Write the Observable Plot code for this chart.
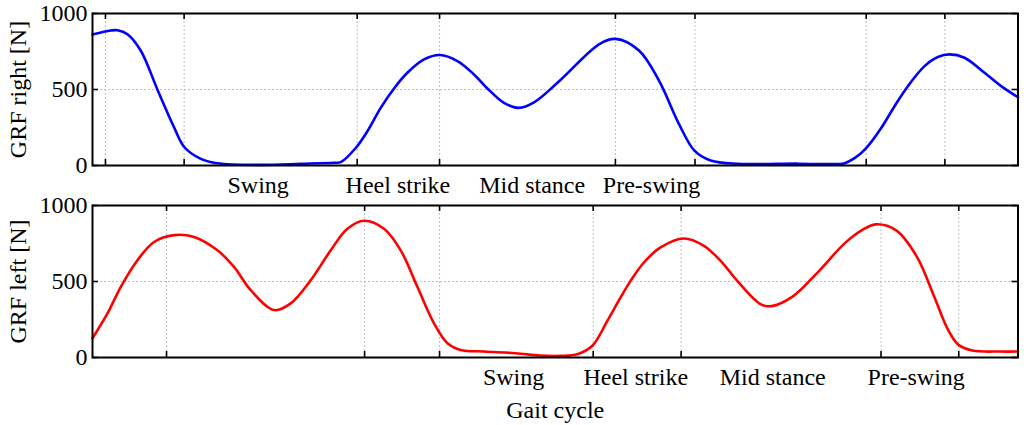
<!DOCTYPE html>
<html>
<head>
<meta charset="utf-8">
<script src="https://cdn.jsdelivr.net/npm/d3@7"></script>
<script src="https://cdn.jsdelivr.net/npm/@observablehq/plot@0.6"></script>
<style>
  html, body { margin: 0; padding: 0; background: white; }
  #chart { width: 1024px; height: 425px; position: relative; }
  #chart svg { display: block; overflow: visible; }
  #chart svg, #chart svg text { font-family: "Liberation Serif", "Times New Roman", serif !important; font-variant-numeric: normal !important; }
</style>
</head>
<body>
<div id="chart"></div>
<script>
// Gait cycle position (0–100 across the plotted window)
const xRight = [0, 1.98, 2.7, 3.78, 5.22, 7.02, 8.81, 9.94, 11.7, 13.5, 18.18, 22.5, 26.06, 26.82, 28.44, 29.7, 31.14, 32.58, 34.02, 35.82, 37.55, 39.43, 41.22, 42.67, 44.46, 46.08, 47.7, 50.48, 54.77, 56.52, 59.07, 61.21, 63.36, 65.04, 66.79, 69.81, 76.25, 79.11, 81.26, 82.34, 83.6, 85.22, 86.66, 88.1, 89.9, 91.34, 92.6, 94.22, 96.38, 98.18, 100];
const grfRight = [862, 888, 890, 864, 755, 499, 252, 120, 44, 15, 4, 11, 18, 22, 115, 225, 379, 507, 610, 698, 727, 687, 599, 507, 412, 379, 415, 558, 799, 833, 755, 558, 274, 98, 33, 11, 12, 9, 15, 48, 115, 247, 390, 522, 654, 714, 731, 709, 610, 522, 449];

const xLeft = [0, 1.62, 3.06, 4.86, 6.65, 8.81, 10.97, 13.5, 15.29, 17.1, 19.62, 21.42, 23.58, 25.74, 27.54, 29.34, 31.5, 33.3, 35.1, 36.9, 38.35, 39.78, 42.3, 45.72, 48.36, 50.58, 52.39, 54.01, 55.63, 57.06, 58.14, 59.58, 61.38, 63.9, 66.06, 67.87, 69.67, 72.19, 73.37, 75.64, 78.23, 81.24, 83.1, 84.61, 86.84, 89.08, 90.95, 92.45, 93.57, 95.06, 98.05, 100];
const grfLeft = [127, 290, 465, 640, 760, 805, 793, 705, 596, 443, 312, 356, 509, 705, 847, 900, 847, 705, 465, 225, 94, 50, 39, 28, 13, 11, 22, 77, 241, 395, 504, 625, 724, 783, 735, 636, 504, 351, 338, 400, 552, 749, 836, 876, 836, 662, 400, 181, 83, 46, 39, 39];

// Gait event tick positions
const rightTicks = [1.4, 9.9, 28.6, 37.5, 56.5, 65.1, 83.6, 92.1];
const leftTicks = [8.0, 29.4, 37.5, 54.1, 63.6, 85.2, 93.6];

// Phase labels
const phaseNames = ["Swing", "Heel strike", "Mid stance", "Pre-swing"];
const rightPhasePos = [17.9, 33.0, 47.5, 60.4];
const leftPhasePos = [45.5, 58.7, 73.5, 89.0];

const yTicks = [0, 500, 1000];

const W = 1024, ML = 92, MR = 6.5, INNER_H = 152;
const innerW = W - ML - MR;
const FONT = "Liberation Serif";

function panel({xs, ys, color, ticks, phasePos, yLabel, xLabel, height, marginTop, marginBottom}) {
  const data = xs.map((x, i) => ({x, y: ys[i]}));
  const labelOf = new Map(phasePos.map((p, i) => [p, phaseNames[i]]));
  const grid = {stroke: "#b0b0b0", strokeWidth: 0.8, strokeDasharray: "2,2"};
  return Plot.plot({
    width: W,
    height,
    marginLeft: ML,
    marginRight: MR,
    marginTop,
    marginBottom,
    style: {fontFamily: FONT, fontSize: "24px", color: "black", background: "white", overflow: "visible"},
    x: {domain: [0, 100]},
    y: {domain: [0, 1000]},
    marks: [
      Plot.ruleX(ticks, grid),
      Plot.ruleY([500], grid),
      Plot.line(data, {x: "x", y: "y", stroke: color, strokeWidth: 2.6, curve: "catmull-rom"}),
      Plot.tickX(ticks, {stroke: "black", strokeWidth: 1.6, insetTop: INNER_H - 6}),
      Plot.tickX(ticks, {stroke: "black", strokeWidth: 1.6, insetBottom: INNER_H - 6}),
      Plot.tickY(yTicks, {stroke: "black", strokeWidth: 1.6, insetRight: innerW - 6}),
      Plot.tickY(yTicks, {stroke: "black", strokeWidth: 1.6, insetLeft: innerW - 6}),
      Plot.axisY({ticks: yTicks, tickSize: 0, tickPadding: 5, fontSize: 24, fontFamily: FONT, tickFormat: d => String(d), label: yLabel, labelAnchor: "center", labelArrow: "none", labelOffset: 84}),
      Plot.axisX({ticks: phasePos, tickSize: 0, tickPadding: 10, fontSize: 24, fontFamily: FONT, tickFormat: d => labelOf.get(d), label: xLabel, labelAnchor: "center", labelArrow: "none"}),
      Plot.frame({stroke: "black", strokeWidth: 2})
    ]
  });
}

const topPanel = panel({xs: xRight, ys: grfRight, color: "#0000ff", ticks: rightTicks, phasePos: rightPhasePos,
  yLabel: "GRF right [N]", xLabel: null, height: 200, marginTop: 13, marginBottom: 35});
const bottomPanel = panel({xs: xLeft, ys: grfLeft, color: "#ff0000", ticks: leftTicks, phasePos: leftPhasePos,
  yLabel: "GRF left [N]", xLabel: "Gait cycle", height: 220, marginTop: 5, marginBottom: 63});

const chart = document.getElementById("chart");
chart.appendChild(topPanel);
chart.appendChild(bottomPanel);
</script>
</body>
</html>
